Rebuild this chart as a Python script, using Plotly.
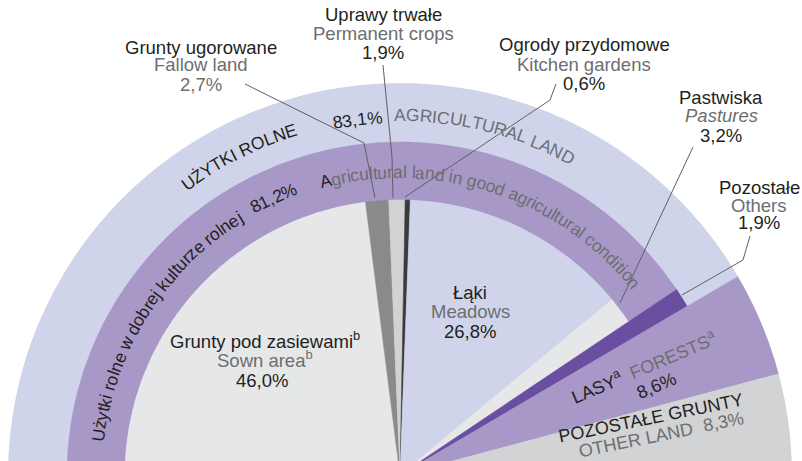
import numpy as np
import plotly.graph_objects as go

# ---------------- data ----------------
inner_names = ["Grunty pod zasiewami", "Grunty ugorowane", "Uprawy trwałe",
               "Ogrody przydomowe", "Łąki", "Pastwiska"]
inner_values = [46.0, 2.7, 1.9, 0.6, 26.8, 3.2]
good_condition_value = 81.2      # Użytki rolne w dobrej kulturze rolnej
others_value = 1.9               # Pozostałe
agricultural_value = 83.1        # Użytki rolne
forests_value = 8.6              # Lasy
other_land_value = 8.3           # Pozostałe grunty

# ---------------- style / layout constants ----------------
W, H = 802, 475
CX, CY = 400, 475
R_OUT, R_RING, R_IN = 392, 333, 275
FONT = "Liberation Sans, Arial, sans-serif"
BLACK = "#231f20"
GRAY = "#6d6e71"
LINE = "#5f6062"

C_LAV = "#cfd4ea"
C_PUR = "#a898c8"
C_DPUR = "#6a4fa1"
C_LGRAY = "#e6e7e8"
C_OTHER = "#d1d3d4"
inner_colors = [C_LGRAY, "#898a8c", "#d1d2d4", "#3a3a3c", C_LAV, C_LGRAY]

fig = go.Figure()


def wedge(start_pct, value, r0, r1, color, name):
    width = value * 1.8
    theta = start_pct * 1.8 + width / 2
    fig.add_trace(go.Barpolar(
        r=[r1 - r0], base=[r0], theta=[theta], width=[width], name=name,
        marker=dict(color=color, line=dict(color=color, width=0.6)),
        hoverinfo="name", showlegend=False))


wedge(0, agricultural_value, R_RING, R_OUT, C_LAV, "Użytki rolne")
wedge(0, good_condition_value, R_IN, R_RING, C_PUR, "Użytki rolne w dobrej kulturze rolnej")
cum = 0.0
for n, v, c in zip(inner_names, inner_values, inner_colors):
    wedge(cum, v, 0, R_IN, c, n)
    cum += v
wedge(good_condition_value, others_value, 0, R_RING, C_DPUR, "Pozostałe")
wedge(agricultural_value, forests_value, 0, R_OUT, C_PUR, "Lasy")
wedge(agricultural_value + forests_value, other_land_value, 0, R_OUT, C_OTHER, "Pozostałe grunty")

annotations = []
shapes = []


def px(x, y):
    return x / W, 1 - y / H


ARIAL = {' ': 278, 'A': 667, 'B': 667, 'C': 722, 'D': 722, 'E': 667, 'F': 611, 'G': 778,
         'H': 722, 'I': 278, 'J': 500, 'K': 667, 'L': 556, 'M': 833, 'N': 722, 'O': 778,
         'P': 667, 'R': 722, 'S': 667, 'T': 611, 'U': 722, 'V': 667, 'W': 944, 'Y': 667,
         'Z': 611, 'Ż': 611, 'Ł': 556,
         'a': 556, 'b': 556, 'c': 500, 'd': 556, 'e': 556, 'f': 278, 'g': 556, 'h': 556,
         'i': 222, 'j': 222, 'k': 500, 'l': 222, 'm': 833, 'n': 556, 'o': 556, 'p': 556,
         'r': 333, 's': 500, 't': 278, 'u': 556, 'w': 722, 'y': 500, 'z': 500, 'ż': 500,
         ',': 278, '%': 889}


def arc_text(segments, r, center_deg, size):
    chars = [(c, col) for s, col in segments for c in s]
    total = sum(ARIAL.get(c, 556) for c, _ in chars) * size / 1000
    start = np.radians(center_deg) + total / (2 * r)
    pos = 0.0
    for c, col in chars:
        w = ARIAL.get(c, 556) * size / 1000
        a = start - (pos + w / 2) / r
        pos += w
        if c == ' ':
            continue
        x, y = px(CX + r * np.cos(a), CY - r * np.sin(a))
        annotations.append(dict(x=x, y=y, xref="paper", yref="paper", text=c,
                                showarrow=False, textangle=90 - np.degrees(a),
                                xanchor="center", yanchor="middle",
                                font=dict(size=size, color=col, family=FONT)))


def label(x, y, text, color=BLACK, size=18.5, angle=0):
    xx, yy = px(x, y)
    annotations.append(dict(x=xx, y=yy, xref="paper", yref="paper", text=text,
                            showarrow=False, textangle=angle, xanchor="center",
                            yanchor="middle", font=dict(size=size, color=color, family=FONT)))


def leader(points):
    p = [px(x, y) for x, y in points]
    path = "M " + " L ".join(f"{a:.5f},{b:.5f}" for a, b in p)
    shapes.append(dict(type="path", xref="paper", yref="paper", path=path,
                       line=dict(color=LINE, width=1)))


def pct(v):
    return f"{v:.1f}%".replace('.', ',')


# curved ring texts
arc_text([("UŻYTKI ROLNE", BLACK)], 361, 116.8, 17.5)
arc_text([(pct(agricultural_value), BLACK)], 358, 96.8, 17.5)
arc_text([("AGRICULTURAL LAND", GRAY)], 360, 76.0, 17.5)
arc_text([("Użytki rolne w dobrej kulturze rolnej", BLACK)], 304, 147.6, 17.5)
arc_text([(pct(good_condition_value), BLACK)], 305, 114.5, 17.5)
arc_text([("A", BLACK), ("gricultural land in good agricultural condition", GRAY)], 303, 71.9, 17.5)

# outer labels
label(201, 47, "Grunty ugorowane")
label(201, 65, "Fallow land", GRAY)
label(201, 84, pct(inner_values[1]), GRAY)
label(383, 15, "Uprawy trwałe")
label(383, 33, "Permanent crops", GRAY)
label(383, 53, pct(inner_values[2]))
label(584, 45, "Ogrody przydomowe")
label(584, 64, "Kitchen gardens", GRAY)
label(584, 83, pct(inner_values[3]))
label(721, 97, "Pastwiska")
label(721, 116, "<i>Pastures</i>", GRAY)
label(721, 135, pct(inner_values[5]))
label(759, 187, "Pozostałe")
label(759, 205, "Others", GRAY)
label(759, 223, pct(others_value))

# inner labels
label(265, 340, "Grunty pod zasiewami<sup>b</sup>")
label(265, 359, "Sown area<sup>b</sup>", GRAY)
label(262, 380, pct(inner_values[0]))
label(470, 292, "Łąki")
label(470, 311, "Meadows", GRAY)
label(470, 331, pct(inner_values[4]))

# forests / other land
label(643, 367, f"LASY<sup>a</sup>  <span style='color:{GRAY}'>FORESTS<sup>a</sup></span>",
      BLACK, 18, -23)
label(656, 386, pct(forests_value), BLACK, 18, -23)
label(651, 418, "POZOSTAŁE GRUNTY", BLACK, 18, -11.5)
label(636, 440, "OTHER LAND", GRAY, 18, -11.5)
label(723, 422, pct(other_land_value), GRAY, 18, -11.5)

# leader lines
leader([(245, 84), (364, 143), (375, 198)])
leader([(383, 65), (392, 157), (393, 198)])
leader([(556, 84), (550, 100), (405, 197)])
leader([(693, 147), (620, 303)])
leader([(750, 236), (743, 260), (682, 295)])

fig.update_layout(
    width=W, height=H,
    margin=dict(l=0, r=0, t=0, b=0),
    paper_bgcolor="white", plot_bgcolor="white",
    showlegend=False,
    polar=dict(
        domain=dict(x=[(CX - R_OUT) / W, (CX + R_OUT) / W], y=[(H - CY) / H, (H - CY + R_OUT) / H]),
        sector=[0, 180], hole=0, bgcolor="white",
        angularaxis=dict(direction="clockwise", rotation=180, visible=False,
                         showgrid=False, showline=False, showticklabels=False, ticks=""),
        radialaxis=dict(range=[0, R_OUT], visible=False, showgrid=False,
                        showline=False, showticklabels=False, ticks=""),
        bargap=0,
    ),
    annotations=annotations,
    shapes=shapes,
)

fig.write_html("out.html",
               config={"displayModeBar": False},
               post_script="document.body.style.margin='0';"
                           "document.documentElement.style.overflow='hidden';")
